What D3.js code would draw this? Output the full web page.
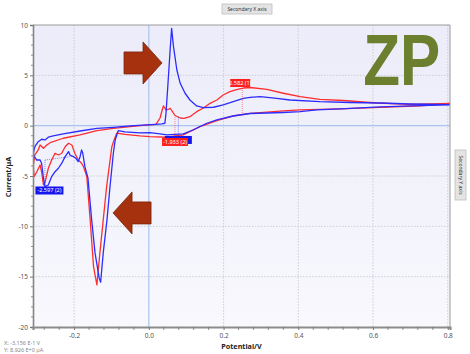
<!DOCTYPE html>
<html><head><meta charset="utf-8">
<script src="https://cdn.jsdelivr.net/npm/d3@7"></script>
<style>body{margin:0;background:#fff}svg{display:block}</style>
</head><body>
<svg id="chart" width="470" height="354"></svg>
<script>
// ---- data ----
const xTicks = [-0.2, 0, 0.2, 0.4, 0.6, 0.8];
const xTickLabels = ["-0.2", "0.0", "0.2", "0.4", "0.6", "0.8"];
const yTicks = [10, 5, 0, -5, -10, -15, -20];
const yTickLabels = ["10", "5", "0", "-5", "-10", "-15", "-20"];

// [potential V, current µA]
const blueCurve = [
 [-0.309,-2.74],[-0.305,-2.09],[-0.296,-1.59],[-0.287,-1.35],[-0.278,-1.42],[-0.269,-1.15],[-0.256,-1.02],
 [-0.229,-0.82],[-0.184,-0.53],[-0.139,-0.26],[-0.095,-0.16],[-0.050,-0.03],[-0.006,0.07],[0.017,0.12],
 [0.035,0.17],[0.043,0.24],[0.046,1.26],[0.051,4.04],[0.057,7.52],[0.061,9.67],[0.066,7.85],[0.075,5.53],
 [0.084,4.21],[0.097,3.22],[0.110,2.55],[0.128,1.96],[0.146,1.79],[0.173,1.83],[0.199,2.06],[0.226,2.38],
 [0.253,2.72],[0.271,2.82],[0.298,2.88],[0.342,2.72],[0.378,2.55],[0.458,2.38],[0.538,2.30],[0.619,2.25],
 [0.699,2.15],[0.806,2.08],
 [0.726,2.00],[0.619,1.86],[0.512,1.66],[0.449,1.56],[0.405,1.39],[0.359,1.31],[0.271,1.21],[0.225,0.96],
 [0.182,0.57],[0.155,0.24],[0.118,-0.43],[0.092,-0.82],[0.048,-0.92],[0.030,-0.82],[0.003,-0.70],
 [-0.024,-0.72],[-0.064,-0.61],[-0.082,-0.50],[-0.090,-1.42],[-0.095,-2.74],[-0.104,-6.09],[-0.112,-9.36],
 [-0.122,-12.64],[-0.129,-15.55],[-0.133,-15.12],[-0.144,-12.64],[-0.153,-9.36],[-0.163,-5.19],
 [-0.171,-4.10],[-0.177,-2.71],[-0.180,-2.41],[-0.184,-3.08],[-0.189,-3.57],[-0.196,-3.21],[-0.202,-3.08],
 [-0.211,-2.91],[-0.215,-2.58],[-0.224,-3.08],[-0.233,-3.73],[-0.242,-4.23],[-0.251,-4.57],[-0.260,-5.06],
 [-0.269,-5.89],[-0.278,-6.06],[-0.282,-5.22],[-0.287,-3.73],[-0.291,-3.41],[-0.300,-3.41],[-0.307,-3.08],
 [-0.309,-2.74]
];
const redCurve = [
 [-0.309,-3.90],[-0.305,-2.91],[-0.296,-2.41],[-0.291,-1.92],[-0.282,-2.24],[-0.273,-1.92],[-0.264,-1.69],
 [-0.229,-1.25],[-0.184,-0.92],[-0.139,-0.50],[-0.095,-0.26],[-0.050,-0.10],[-0.015,0.02],[0.003,0.07],
 [0.019,0.12],[0.030,0.76],[0.035,1.46],[0.039,1.96],[0.046,1.56],[0.052,1.61],[0.057,1.73],[0.062,1.46],
 [0.070,1.01],[0.084,0.76],[0.094,0.73],[0.110,0.89],[0.128,1.39],[0.146,1.76],[0.164,2.22],[0.182,2.55],
 [0.199,3.05],[0.217,3.38],[0.235,3.59],[0.253,3.74],[0.271,3.79],[0.316,3.61],[0.360,3.22],[0.405,2.88],
 [0.458,2.62],[0.521,2.50],[0.610,2.25],[0.699,2.12],[0.806,2.20],
 [0.726,1.98],[0.619,1.81],[0.512,1.66],[0.405,1.56],[0.360,1.46],[0.271,1.23],[0.225,0.96],[0.182,0.50],
 [0.137,-0.10],[0.092,-0.92],[0.048,-1.15],[0.003,-1.09],[-0.024,-1.02],[-0.064,-0.87],[-0.086,-0.75],
 [-0.093,-1.42],[-0.099,-2.09],[-0.113,-6.06],[-0.122,-9.36],[-0.131,-12.64],[-0.139,-15.82],[-0.148,-14.0],
 [-0.157,-9.36],[-0.166,-5.06],[-0.175,-4.07],[-0.180,-3.73],[-0.189,-3.41],[-0.198,-2.74],[-0.206,-1.92],
 [-0.215,-1.75],[-0.224,-2.09],[-0.233,-2.74],[-0.242,-2.91],[-0.251,-2.74],[-0.260,-3.41],[-0.269,-4.23],
 [-0.278,-5.69],[-0.282,-5.89],[-0.287,-4.60],[-0.291,-3.90],[-0.300,-4.60],[-0.307,-5.06],[-0.309,-4.23]
];
// peak labels: text, anchor (V, I), colour key
const peakLabels = [
 {text:"-1.933 (2)", v:0.079, i:-1.42, c:"blue", w:27, blank:true},
 {text:"2.582 (1)", v:0.2446, i:4.24, c:"red", w:20},
 {text:"-1.933 (2)", v:0.070, i:-1.62, c:"red", w:26},
 {text:"-2.597 (2)", v:-0.266, i:-6.44, c:"blue", w:28}
];
// dotted marker segments [v1,i1,v2,i2]
const markerLines = [
 {c:"red", p:[0.250,3.74,0.250,1.25]},
 {c:"red", p:[0.070,0.85,0.070,-1.2]},
 {c:"blue", p:[0.079,0.90,0.079,-0.95]},
 {c:"blue", p:[-0.278,-3.41,-0.278,-6.0]},
 {c:"blue", p:[-0.278,-3.41,-0.205,-3.05]}
];
// annotation arrows: tip (V, I), direction
const arrows = [{v:0.0353, i:6.23, dir:1}, {v:-0.0958, i:-8.67, dir:-1}];

// ---- layout ----
const W = 470, H = 354;
const L = 33, R = 450, T = 25, B = 327;
const svg = d3.select("#chart");
const x = d3.scaleLinear().domain([-0.31, 0.806]).range([L, R]);
const y = d3.scaleLinear().domain([-20, 10]).range([B, T]);
const colors = {blue:"#2c2cff", red:"#ff2e2e"};
const font = "'Noto Sans', 'DejaVu Sans', sans-serif";

const defs = svg.append("defs");
const g1 = defs.append("linearGradient").attr("id","bg").attr("x1",0).attr("y1",0).attr("x2",0).attr("y2",1);
g1.append("stop").attr("offset","0%").attr("stop-color","#ececfa");
g1.append("stop").attr("offset","100%").attr("stop-color","#f8f8fd");
defs.append("clipPath").attr("id","clip").append("rect").attr("x",L).attr("y",T).attr("width",R-L).attr("height",B-T);

svg.append("rect").attr("x",L).attr("y",T).attr("width",R-L).attr("height",B-T).attr("fill","url(#bg)");

// grid
svg.append("g").selectAll("line").data(xTicks.filter(d=>d!==0)).join("line")
  .attr("x1",d=>x(d)).attr("x2",d=>x(d)).attr("y1",T).attr("y2",B)
  .attr("stroke","#c4c4cc").attr("stroke-width",0.8).attr("stroke-dasharray","1.5,1.5");
svg.append("g").selectAll("line").data(yTicks.filter(d=>d!==0 && d!==10 && d!==-20)).join("line")
  .attr("y1",d=>y(d)).attr("y2",d=>y(d)).attr("x1",L).attr("x2",R)
  .attr("stroke","#c4c4cc").attr("stroke-width",0.8).attr("stroke-dasharray","1.5,1.5");
// zero lines
svg.append("line").attr("x1",x(0)).attr("x2",x(0)).attr("y1",T).attr("y2",B).attr("stroke","#a9c3ee").attr("stroke-width",1.2);
svg.append("line").attr("x1",L).attr("x2",R).attr("y1",y(0)).attr("y2",y(0)).attr("stroke","#a9c3ee").attr("stroke-width",1.2);

// logo
svg.append("text").attr("x",x(0.574)).attr("y",y(4.0)).attr("fill","#6b7f2f")
  .attr("font-family","'Liberation Sans', Arial, sans-serif").attr("font-weight","bold")
  .attr("font-size",72).attr("textLength",77).attr("lengthAdjust","spacingAndGlyphs").text("ZP");

// arrows
arrows.forEach(a=>{
  const tx = x(a.v), ty = y(a.i), d = a.dir;
  const hl = 19, hh = 21, bl = 19, bh = 11;
  const pts = [[tx,ty],[tx-d*hl,ty-hh],[tx-d*hl,ty-bh],[tx-d*(hl+bl),ty-bh],[tx-d*(hl+bl),ty+bh],[tx-d*hl,ty+bh],[tx-d*hl,ty+hh]];
  svg.append("polygon").attr("points",pts.map(p=>p.join(",")).join(" "))
    .attr("fill","#a5310f").attr("stroke","#7a2409").attr("stroke-width",0.8);
});

// curves
const line = d3.line().x(d=>x(d[0])).y(d=>y(d[1]));
const cg = svg.append("g").attr("clip-path","url(#clip)");
cg.append("path").attr("d",line(redCurve)).attr("fill","none").attr("stroke",colors.red).attr("stroke-width",1.3).attr("stroke-linejoin","round");
cg.append("path").attr("d",line(blueCurve)).attr("fill","none").attr("stroke",colors.blue).attr("stroke-width",1.3).attr("stroke-linejoin","round");

// marker lines
cg.selectAll("line.mk").data(markerLines).join("line").attr("class","mk")
  .attr("x1",d=>x(d.p[0])).attr("y1",d=>y(d.p[1])).attr("x2",d=>x(d.p[2])).attr("y2",d=>y(d.p[3]))
  .attr("stroke",d=>colors[d.c]).attr("stroke-width",0.8).attr("stroke-dasharray","1,1").attr("opacity",0.7);

// peak labels
peakLabels.forEach(p=>{
  const cx = x(p.v), cy = y(p.i);
  svg.append("rect").attr("x",cx-p.w/2).attr("y",cy-4).attr("width",p.w).attr("height",8)
    .attr("fill",p.c==="red"?"#ff1f1f":"#1515ee");
  if(!p.blank) svg.append("text").attr("x",cx).attr("y",cy+2).attr("text-anchor","middle")
    .attr("font-family",font).attr("font-size",5.6).attr("fill","#fff").text(p.text);
});

// axes frame
svg.append("line").attr("x1",L).attr("x2",R).attr("y1",T).attr("y2",T).attr("stroke","#9a9a9a").attr("stroke-width",1);
svg.append("line").attr("x1",R).attr("x2",R).attr("y1",T).attr("y2",B).attr("stroke","#9a9a9a").attr("stroke-width",1);

const yAxis = d3.axisLeft(y).tickValues(yTicks).tickFormat((d,i)=>yTickLabels[i]).tickSize(3).tickPadding(2);
const ya = svg.append("g").attr("transform",`translate(${L},0)`).call(yAxis);
const yMinor = d3.range(-20,10.01,1).filter(v=>!yTicks.includes(v));
svg.append("g").selectAll("line").data(yMinor).join("line")
  .attr("x1",L-2).attr("x2",L).attr("y1",d=>y(d)).attr("y2",d=>y(d)).attr("stroke","#777").attr("stroke-width",0.8);

const xAxis = d3.axisBottom(x).tickValues(xTicks).tickFormat((d,i)=>xTickLabels[i]).tickSize(3).tickPadding(3);
const xa = svg.append("g").attr("transform",`translate(0,${B})`).call(xAxis);
const xMinor = d3.range(-0.28,0.81,0.04).map(v=>+v.toFixed(2)).filter(v=>!xTicks.some(t=>Math.abs(t-v)<1e-6));
svg.append("g").selectAll("line").data(xMinor).join("line")
  .attr("x1",d=>x(d)).attr("x2",d=>x(d)).attr("y1",B).attr("y2",B+3).attr("stroke","#777").attr("stroke-width",0.8);

[ya,xa].forEach(a=>{
  a.selectAll("text").attr("font-family",font).attr("font-size",6.5).attr("fill","#555");
  a.selectAll(".tick line").attr("stroke","#777");
});
ya.select(".domain").attr("stroke","#858585").attr("stroke-width",1.6);
xa.select(".domain").attr("stroke","#8c8c8c").attr("stroke-width",2.2);

// axis titles
svg.append("text").attr("transform",`translate(11,${(T+B)/2+1}) rotate(-90)`).attr("text-anchor","middle")
  .attr("font-family",font).attr("font-weight","bold").attr("font-size",7.2).attr("fill","#222").text("Current/µA");
svg.append("text").attr("x",(L+R)/2).attr("y",349).attr("text-anchor","middle")
  .attr("font-family",font).attr("font-weight","bold").attr("font-size",7.2).attr("fill","#222").text("Potential/V");

// readout
svg.append("text").attr("x",4).attr("y",345).attr("font-family",font).attr("font-size",5.5).attr("fill","#888").text("X: -3.156 E-1 V");
svg.append("text").attr("x",4).attr("y",351.5).attr("font-family",font).attr("font-size",5.5).attr("fill","#888").text("Y: 8.926 E+0 µA");

// secondary axis buttons
svg.append("rect").attr("x",222).attr("y",4).attr("width",50).attr("height",10).attr("fill","#e4e4e4").attr("stroke","#bdbdbd").attr("stroke-width",0.8);
svg.append("text").attr("x",247).attr("y",10.8).attr("text-anchor","middle").attr("font-family",font).attr("font-size",5).attr("fill","#333").text("Secondary X axis");
svg.append("rect").attr("x",455).attr("y",150).attr("width",11).attr("height",50).attr("fill","#e4e4e4").attr("stroke","#bdbdbd").attr("stroke-width",0.8);
svg.append("text").attr("transform","translate(459,175) rotate(90)").attr("text-anchor","middle").attr("font-family",font).attr("font-size",5).attr("fill","#333").text("Secondary Y axis");
</script>
</body></html>
